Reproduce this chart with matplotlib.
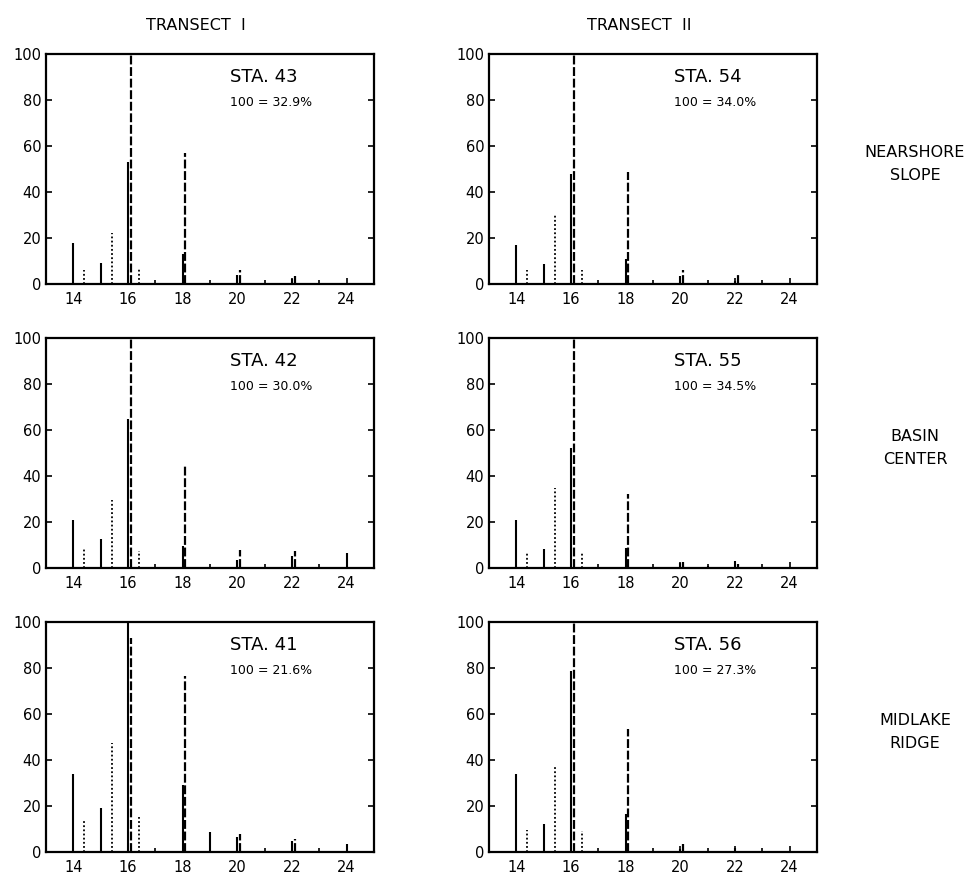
import numpy as np
import matplotlib.pyplot as plt
from matplotlib.ticker import MultipleLocator

plt.rcParams['font.family'] = 'DejaVu Sans'

# Peak positions (x) for the three line styles
solid_x = [14.0, 15.0, 16.0, 18.0, 19.0, 20.0, 21.0, 22.0, 24.0]
dotted_x = [14.4, 15.4, 16.4]
dashed_x = [16.1, 18.1, 20.1, 22.1]

# Peak heights per station (same order as the positions above)
sta43_solid = [18, 9, 53, 13, 0, 4, 0, 2, 0]
sta43_dotted = [6, 22, 7]
sta43_dashed = [100, 57, 6, 3.5]

sta54_solid = [17, 8.7, 48, 11, 0, 3.6, 0, 1.5, 0]
sta54_dotted = [6, 30, 6]
sta54_dashed = [100, 48.5, 6, 4.5]

sta42_solid = [21, 12.5, 65, 9.4, 0, 3.6, 0, 5.3, 6.5]
sta42_dotted = [8.5, 29.5, 7.2]
sta42_dashed = [100, 44.5, 7.7, 7.2]

sta55_solid = [21, 8.2, 52, 8.7, 0, 2.2, 0.7, 2.9, 0]
sta55_dotted = [6.5, 35, 6.5]
sta55_dashed = [100, 32, 2.6, 1.9]

sta41_solid = [34, 19, 100, 29, 8.7, 6.5, 0, 5, 3.6]
sta41_dotted = [13.7, 47.5, 15.4]
sta41_dashed = [93, 76.5, 7.9, 5.5]

sta56_solid = [34, 12.3, 78.5, 16.5, 0, 1.4, 0, 1.9, 0]
sta56_dotted = [9.5, 37.3, 9]
sta56_dashed = [100, 53.3, 3.3, 0]

station_names = ['STA. 43', 'STA. 54', 'STA. 42', 'STA. 55', 'STA. 41', 'STA. 56']
station_norms = ['100 = 32.9%', '100 = 34.0%', '100 = 30.0%',
                 '100 = 34.5%', '100 = 21.6%', '100 = 27.3%']
column_titles = ['TRANSECT  I', 'TRANSECT  II']
row_labels = ['NEARSHORE\nSLOPE', 'BASIN\nCENTER', 'MIDLAKE\nRIDGE']

stations = [
    (sta43_solid, sta43_dotted, sta43_dashed),
    (sta54_solid, sta54_dotted, sta54_dashed),
    (sta42_solid, sta42_dotted, sta42_dashed),
    (sta55_solid, sta55_dotted, sta55_dashed),
    (sta41_solid, sta41_dotted, sta41_dashed),
    (sta56_solid, sta56_dotted, sta56_dashed),
]

W, H = 977, 876
fig = plt.figure(figsize=(W / 100, H / 100), dpi=100)

col_left = [46, 489]
col_width = 328
row_top = [54, 338, 622]
row_height = 230


def draw_panel(ax, solid, dotted, dashed, name, norm):
    '''Draw one station chromatogram-like panel.'''
    ax.vlines(solid_x, 0, solid, colors='black', linewidth=1.5)
    ax.vlines(dotted_x, 0, dotted, colors='black', linewidth=1.3,
              linestyles=[(0, (1, 1.3))])
    ax.vlines(dashed_x, 0, dashed, colors='black', linewidth=1.6,
              linestyles=[(0, (4.0, 1.2))])
    ax.set_xlim(13, 25)
    ax.set_ylim(0, 100)
    ax.xaxis.set_minor_locator(MultipleLocator(1))
    ax.set_xticks(np.arange(14, 25, 2))
    ax.set_yticks(np.arange(0, 101, 20))
    ax.tick_params(axis='both', which='both', direction='in', labelsize=10.5,
                   right=True, width=1.2)
    ax.tick_params(axis='both', which='major', length=4)
    ax.tick_params(axis='both', which='minor', length=3)
    ax.tick_params(axis='x', pad=6)
    for s in ax.spines.values():
        s.set_linewidth(1.6)
    ax.text(19.75, 94, name, fontsize=13, va='top', ha='left')
    ax.text(19.75, 79, norm, fontsize=9, va='center', ha='left')


for i, (solid, dotted, dashed) in enumerate(stations):
    r, c = divmod(i, 2)
    rect = [col_left[c] / W, 1 - (row_top[r] + row_height) / H,
            col_width / W, row_height / H]
    ax = fig.add_axes(rect)
    draw_panel(ax, solid, dotted, dashed, station_names[i], station_norms[i])

# column titles
for c, title in enumerate(column_titles):
    fig.text((col_left[c] + col_width / 2 - 14) / W, 1 - 26 / H, title,
             ha='center', va='center', fontsize=11.5)

# row labels on the right
for r, label in enumerate(row_labels):
    fig.text(915 / W, 1 - (row_top[r] + row_height / 2 - 5) / H, label,
             ha='center', va='center', fontsize=11.5, linespacing=1.7)

fig.savefig('out.png', dpi=100)
